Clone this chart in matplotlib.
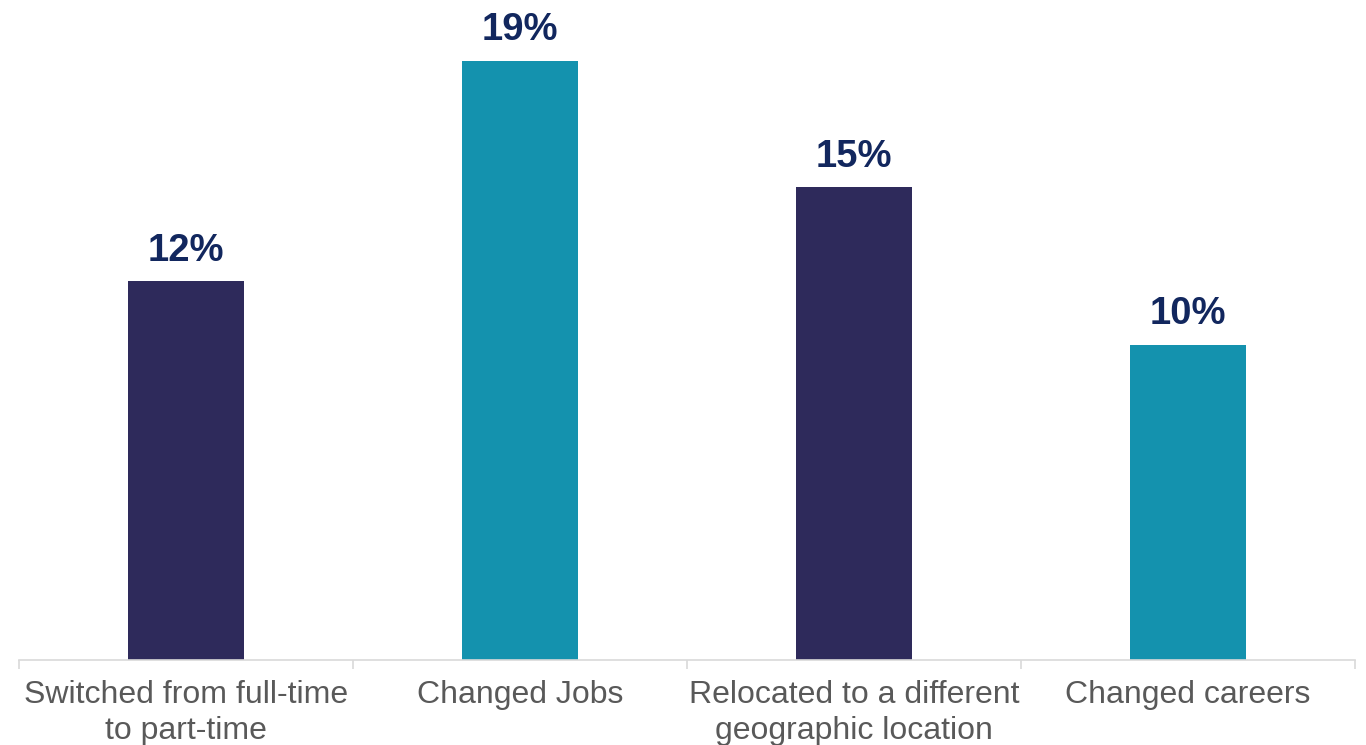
import matplotlib
matplotlib.use("Agg")
import matplotlib.pyplot as plt
import numpy as np

categories = ["Switched from full-time\nto part-time", "Changed Jobs",
              "Relocated to a different\ngeographic location", "Changed careers"]
values = [12, 19, 15, 10]
bar_colors = ["#2E2A5B", "#1492AE", "#2E2A5B", "#1492AE"]

plt.rcParams['font.family'] = ['Liberation Sans', 'DejaVu Sans']

W, H = 1366, 745
fig = plt.figure(figsize=(W / 100, H / 100), dpi=100)
ax = fig.add_axes([19 / W, 85 / H, 1336 / W, 660 / H])

x = np.arange(len(values))
ax.bar(x, values, width=0.35, color=bar_colors, zorder=2)

for xi, v in zip(x, values):
    ax.annotate(f"{v}%", (xi, v), xytext=(0, 14.5), textcoords="offset points",
                ha="center", va="baseline", fontsize=27.5, fontweight="bold",
                color="#12275E")

ax.set_xlim(-0.5, len(values) - 0.5)
ax.set_ylim(0, 660 / 31.55)

ax.set_xticks(x)
ax.set_xticklabels(categories, fontsize=23, color="#595959", linespacing=1.25)
ax.tick_params(axis="x", which="major", length=0, pad=14.5)
ax.set_xticks(np.arange(len(values) + 1) - 0.5, minor=True)
ax.tick_params(axis="x", which="minor", length=6.5, width=1.2, color="#D9D9D9")

ax.set_yticks([])
for side in ["top", "right", "left"]:
    ax.spines[side].set_visible(False)
ax.spines["bottom"].set_color("#D9D9D9")
ax.spines["bottom"].set_linewidth(1.2)

fig.savefig("out.png", dpi=100)
